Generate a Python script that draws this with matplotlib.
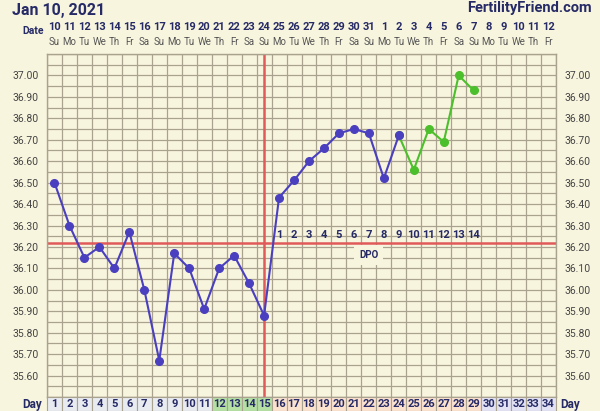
import matplotlib
matplotlib.use("Agg")
import matplotlib.pyplot as plt
import matplotlib.transforms as mtransforms
from matplotlib.patches import Rectangle

plt.rcParams["font.family"] = ["Roboto", "DejaVu Sans"]

# ---- data ----
days = list(range(1, 35))
dates = list(range(10, 32)) + list(range(1, 13))
weekdays = ["Su", "Mo", "Tu", "We", "Th", "Fr", "Sa"]
temp_days_blue = list(range(1, 25))
temps_blue = [36.50, 36.30, 36.15, 36.20, 36.10, 36.27, 36.00, 35.67, 36.17, 36.10,
              35.91, 36.10, 36.16, 36.03, 35.88, 36.43, 36.51, 36.60, 36.66, 36.73,
              36.75, 36.73, 36.52, 36.72]
temp_days_green = [24, 25, 26, 27, 28, 29]
temps_green = [36.72, 36.56, 36.75, 36.69, 37.00, 36.93]
coverline = 36.22
ovulation_day = 15
dpo_labels = list(range(1, 15))
dpo_days = list(range(16, 30))
y_labels = [37.00, 36.90, 36.80, 36.70, 36.60, 36.50, 36.40, 36.30, 36.20, 36.10,
            36.00, 35.90, 35.80, 35.70, 35.60]

BG = "#f8f5de"
GRID = "#a9a28e"
NAVY = "#262a66"
BLUE = "#4a3fbf"
GREEN = "#4cc02c"
RED = "#e05a5a"

W, H = 600, 411
fig = plt.figure(figsize=(6, 4.11), dpi=100, facecolor=BG)

def fx(px):
    return px / W

def fy(py):
    return 1 - py / H

left, right, top, bottom = 47, 556, 54, 397
ax = fig.add_axes([fx(left), fy(bottom), fx(right - left), (bottom - top) / H])
ax.set_facecolor(BG)
ax.set_xlim(0.5, 34.5)
ax.set_ylim(35.50, 37.10)
for s in ax.spines.values():
    s.set_color(GRID)
    s.set_linewidth(1)

# grid
for k in range(35):
    ax.axvline(0.5 + k, color=GRID, lw=0.9, zorder=1)
for j in range(33):
    ax.axhline(35.50 + 0.05 * j, color=GRID, lw=0.9, zorder=1)
ax.set_xticks([])
ax.set_yticks(y_labels)
ax.set_yticklabels([f"{v:.2f}" for v in y_labels], fontsize=7.5, color="#444444")
ax.tick_params(axis="y", length=0, pad=6, labelright=True, labelleft=True)

# coverline and ovulation
ax.axhline(coverline, color=RED, lw=1.8, zorder=2)
ax.axvline(ovulation_day, color=RED, lw=1.8, zorder=2)

# temperatures
ax.plot(temp_days_green, temps_green, color=GREEN, lw=1.5, marker="o", ms=5.5, zorder=4)
ax.plot(temp_days_blue, temps_blue, color=BLUE, lw=1.5, marker="o", ms=5.5, zorder=5)

# DPO labels
for d, lab in zip(dpo_days, dpo_labels):
    ax.text(d, 36.257, str(lab), ha="center", va="center", fontsize=8, fontweight="bold",
            color=NAVY, zorder=6)
ax.text(22, 36.163, "DPO", ha="center", va="center", fontsize=7, fontweight="bold",
        color=NAVY, zorder=6,
        bbox=dict(boxstyle="square,pad=0.5", facecolor=BG, edgecolor="none"))

# date rows
trans = mtransforms.blended_transform_factory(ax.transData, fig.transFigure)
for i, (d, dt) in enumerate(zip(days, dates)):
    ax.text(d, fy(27), str(dt), transform=trans, ha="center", va="center", fontsize=8,
            fontweight="bold", color=NAVY, clip_on=False)
    ax.text(d, fy(42), weekdays[i % 7], transform=trans, ha="center", va="center",
            fontsize=7, color="#555555", clip_on=False)

# day row cells
def cell_color(d):
    if d <= 11:
        return "#e8ebf0"
    if d <= 15:
        return "#b4e0a4"
    if d <= 29:
        return "#fbe2cf"
    return "#e2e2f4"

for d in days:
    ax.add_patch(Rectangle((d - 0.5, fy(411)), 1, (411 - bottom) / H, transform=trans,
                           facecolor=cell_color(d), edgecolor=GRID, lw=0.8, clip_on=False,
                           zorder=3))
    ax.text(d, fy(404), str(d), transform=trans, ha="center", va="center", fontsize=8,
            fontweight="bold", color=NAVY, clip_on=False, zorder=4)

fig.text(fx(42), fy(404), "Day", ha="right", va="center", fontsize=8.5, fontweight="bold",
         color=NAVY)
fig.text(fx(560), fy(404), "Day", ha="left", va="center", fontsize=8.5, fontweight="bold",
         color=NAVY)
fig.text(fx(44), fy(31), "Date", ha="right", va="center", fontsize=7.5, fontweight="bold",
         color=NAVY)
fig.text(fx(12), fy(10), "Jan 10, 2021", ha="left", va="center", fontsize=11.5,
         fontweight="bold", color=NAVY)
fig.text(fx(592), fy(8), "FertilityFriend.com", ha="right", va="center", fontsize=10.5,
         fontweight="bold", color=NAVY)

fig.savefig("out.png", dpi=100, facecolor=BG)
